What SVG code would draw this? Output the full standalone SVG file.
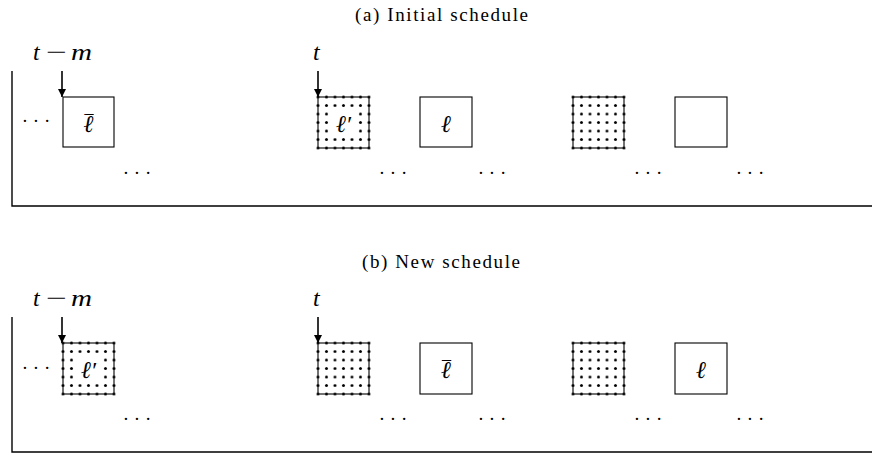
<svg xmlns="http://www.w3.org/2000/svg" width="872" height="456" viewBox="0 0 872 456">
<style>
.title{font-family:"Liberation Serif",serif;font-size:19px;fill:#000;text-anchor:middle}
.math{font-family:"Liberation Serif","DejaVu Serif",serif;font-style:italic;font-size:24px;fill:#000}
.op{font-family:"Liberation Serif","DejaVu Serif",serif;font-size:24px;fill:#000}
.lbl{font-family:"Liberation Serif","DejaVu Serif",serif;font-style:italic;font-size:24px;fill:#000;text-anchor:middle}
.bar{font-size:18px;font-style:normal}
.box{fill:#fff;stroke:#000;stroke-width:1.1}
.dbox{fill:none;stroke:#000;stroke-width:1.1}
.axis{fill:none;stroke:#000;stroke-width:1.4}
.ptr{fill:none;stroke:#000;stroke-width:1.6}
.dots{font-family:"Liberation Serif",serif;font-size:19px;fill:#000;text-anchor:middle}
</style>
<defs>
<pattern id="dotpat" patternUnits="userSpaceOnUse" x="-4.25" y="-4.25" width="8.5" height="8.5">
<circle cx="4.25" cy="4.25" r="1.45" fill="#000"/>
</pattern>
<marker id="ah" viewBox="0 0 10 10" refX="10" refY="5" markerWidth="10" markerHeight="7" markerUnits="userSpaceOnUse" orient="auto">
<path d="M0,0 L10,5 L0,10 Z" fill="#000"/>
</marker>
<marker id="ahs" viewBox="0 0 10 10" refX="10" refY="5" markerWidth="10" markerHeight="8" markerUnits="userSpaceOnUse" orient="auto">
<path d="M0,0 L10,5 L0,10 Z" fill="#000"/>
</marker>
</defs>

<rect width="872" height="456" fill="#fff"/>

<!-- (a) -->
<text class="title" x="441.5" y="21" textLength="173">(a) Initial schedule</text>
<g id="label-a-tm"><text class="math" x="33" y="60">t</text><text class="op" x="46" y="60" textLength="21" lengthAdjust="spacingAndGlyphs">−</text><text class="math" x="71" y="60" textLength="21" lengthAdjust="spacingAndGlyphs">m</text></g>
<g id="label-a-t"><text class="math" x="313" y="60">t</text></g>

<g id="a-box1" transform="translate(63,97)"><rect class="box" width="51" height="50"/><text class="lbl" y="35"><tspan x="25.5">ℓ</tspan><tspan class="bar" x="26" y="31">¯</tspan></text></g>
<g id="a-box2" transform="translate(318,97)"><rect x="-4.25" y="-4.25" width="59.5" height="59.5" fill="url(#dotpat)"/><rect class="dbox" width="51" height="51"/><rect x="12.5" y="12.5" width="26" height="26" fill="#fff"/><text class="lbl" x="25.5" y="35">ℓ′</text></g>
<g id="a-box3" transform="translate(420,97)"><rect class="box" width="52" height="50"/><text class="lbl" x="26" y="35">ℓ</text></g>
<g id="a-box4" transform="translate(573,97)"><rect x="-4.25" y="-4.25" width="59.5" height="59.5" fill="url(#dotpat)"/><rect class="dbox" width="51" height="51"/></g>
<g id="a-box5" transform="translate(675,97)"><rect class="box" width="52" height="50"/></g>

<g id="a-dots">
<text class="dots" x="36" y="127">· · ·</text>
<text class="dots" x="137" y="179">· · ·</text>
<text class="dots" x="393" y="179">· · ·</text>
<text class="dots" x="492" y="179">· · ·</text>
<text class="dots" x="648" y="179">· · ·</text>
<text class="dots" x="750" y="179">· · ·</text>
</g>

<!-- (b) -->
<text class="title" x="441" y="268" textLength="158">(b) New schedule</text>
<g id="label-b-tm"><text class="math" x="33" y="306">t</text><text class="op" x="46" y="306" textLength="21" lengthAdjust="spacingAndGlyphs">−</text><text class="math" x="71" y="306" textLength="21" lengthAdjust="spacingAndGlyphs">m</text></g>
<g id="label-b-t"><text class="math" x="313" y="306">t</text></g>

<g id="b-box1" transform="translate(63,343)"><rect x="-4.25" y="-4.25" width="59.5" height="59.5" fill="url(#dotpat)"/><rect class="dbox" width="51" height="51"/><rect x="12.5" y="12.5" width="26" height="26" fill="#fff"/><text class="lbl" x="25.5" y="35">ℓ′</text></g>
<g id="b-box2" transform="translate(318,343)"><rect x="-4.25" y="-4.25" width="59.5" height="59.5" fill="url(#dotpat)"/><rect class="dbox" width="51" height="51"/></g>
<g id="b-box3" transform="translate(420,343)"><rect class="box" width="52" height="51"/><text class="lbl" y="35"><tspan x="26">ℓ</tspan><tspan class="bar" x="26.5" y="31">¯</tspan></text></g>
<g id="b-box4" transform="translate(573,343)"><rect x="-4.25" y="-4.25" width="59.5" height="59.5" fill="url(#dotpat)"/><rect class="dbox" width="51" height="51"/></g>
<g id="b-box5" transform="translate(675,343)"><rect class="box" width="52" height="51"/><text class="lbl" x="26" y="35">ℓ</text></g>

<g id="b-dots">
<text class="dots" x="36" y="374">· · ·</text>
<text class="dots" x="137" y="425">· · ·</text>
<text class="dots" x="393" y="425">· · ·</text>
<text class="dots" x="492" y="425">· · ·</text>
<text class="dots" x="648" y="425">· · ·</text>
<text class="dots" x="750" y="425">· · ·</text>
</g>

<g id="connectors">
<path class="axis" d="M12,71 V206 H880" marker-end="url(#ah)"/>
<path class="axis" d="M12,317 V452 H880" marker-end="url(#ah)"/>
<line class="ptr" x1="62" y1="71" x2="62" y2="97" marker-end="url(#ahs)"/>
<line class="ptr" x1="318" y1="71" x2="318" y2="97" marker-end="url(#ahs)"/>
<line class="ptr" x1="62" y1="317" x2="62" y2="343" marker-end="url(#ahs)"/>
<line class="ptr" x1="318" y1="317" x2="318" y2="343" marker-end="url(#ahs)"/>
</g>
</svg>
